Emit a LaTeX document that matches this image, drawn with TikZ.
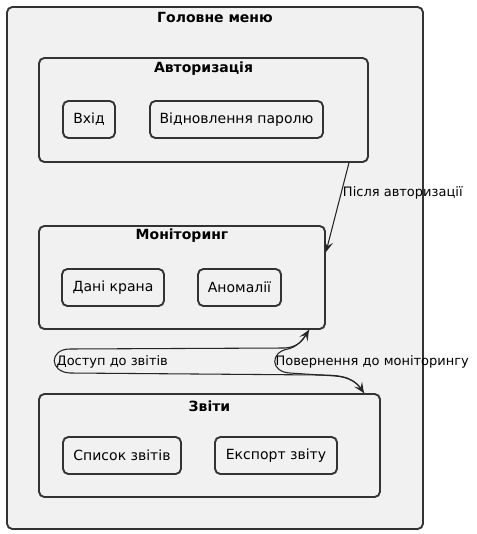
\documentclass[tikz,border=0pt]{standalone}
\usepackage{fontspec}
\setmainfont{DejaVu Sans}
\usepackage{xcolor}
\usetikzlibrary{arrows.meta}
\definecolor{boxfill}{HTML}{F1F1F1}
\definecolor{boxline}{HTML}{333333}
\begin{document}
\begin{tikzpicture}[x=0.75pt, y=-0.75pt]
        % Define styles
        \tikzset{
            group/.style={rectangle, rounded corners=4pt, draw=boxline, line width=1.4pt, fill=boxfill, inner sep=0pt},
            state/.style={rectangle, rounded corners=4pt, draw=boxline, line width=1.4pt, fill=boxfill, minimum height=27.75pt, inner sep=0pt, font=\fontsize{10.5}{12}\selectfont},
            title/.style={font=\fontsize{10.5}{12}\selectfont\bfseries, inner sep=0pt},
            edgelabel/.style={font=\fontsize{9.75}{11}\selectfont, inner sep=1pt},
            arrow/.style={-{Stealth[length=8pt, width=7pt, inset=3.5pt]}, line width=0.8pt, draw=black!85}
        }
        \useasboundingbox (0,0) rectangle (476,534);

        % Groups
        \node[group, minimum width=312pt, minimum height=391.5pt] (group_node_main) at (215,268) {};
        \node[title] (title_node_main) at (215,18) {Головне меню};

        \node[group, minimum width=246.75pt, minimum height=78pt] (group_node_auth) at (203.5,110) {};
        \node[title] (title_node_auth) at (203.5,69) {Авторизація};
        \node[state, minimum width=39pt] (state_node_login) at (89,119.5) {Вхід};
        \node[state, minimum width=129.75pt] (state_node_reset) at (236.5,119.5) {Відновлення паролю};

        \node[group, minimum width=214.5pt, minimum height=77.25pt] (group_node_monitor) at (182,277.5) {};
        \node[title] (title_node_monitor) at (182,236) {Моніторинг};
        \node[state, minimum width=76.5pt] (state_node_crane) at (113,287.5) {Дані крана};
        \node[state, minimum width=62.25pt] (state_node_anomaly) at (239.5,287.5) {Аномалії};

        \node[group, minimum width=255.75pt, minimum height=77.25pt] (group_node_reports) at (209.5,445.5) {};
        \node[title] (title_node_reports) at (209.5,406) {Звіти};
        \node[state, minimum width=88.5pt] (state_node_list) at (122,455.5) {Список звітів};
        \node[state, minimum width=91.5pt] (state_node_export) at (276,455.5) {Експорт звіту};

        % Arrows
        \coordinate (monitor_out) at ([xshift=-12.75pt]group_node_monitor.south east);
        \coordinate (reports_in) at ([xshift=-12.75pt]group_node_reports.north east);

        \draw[arrow] ([xshift=-15pt]group_node_auth.south east) -- ([yshift=-20.25pt]group_node_monitor.north east)
            node[edgelabel, pos=0.34, right] {Після авторизації};

        \draw[arrow] (reports_in) .. controls (355,378) and (345,375) .. (320,375) -- (70,373)
            .. controls (49,372) and (49,349) .. (70,349) -- (285,348)
            .. controls (298,347) and (303,340) .. (monitor_out);
        \node[edgelabel, anchor=west] (label_node_access) at (55,362) {Доступ до звітів};

        \draw[arrow] (monitor_out) .. controls (302,342) and (296,347) .. (288,349)
            .. controls (270,352) and (270,372) .. (290,373) -- (335,376)
            .. controls (350,377) and (358,384) .. (reports_in);
        \node[edgelabel, anchor=west] (label_node_back) at (274,362) {Повернення до моніторингу};
    \end{tikzpicture}
\end{document}
